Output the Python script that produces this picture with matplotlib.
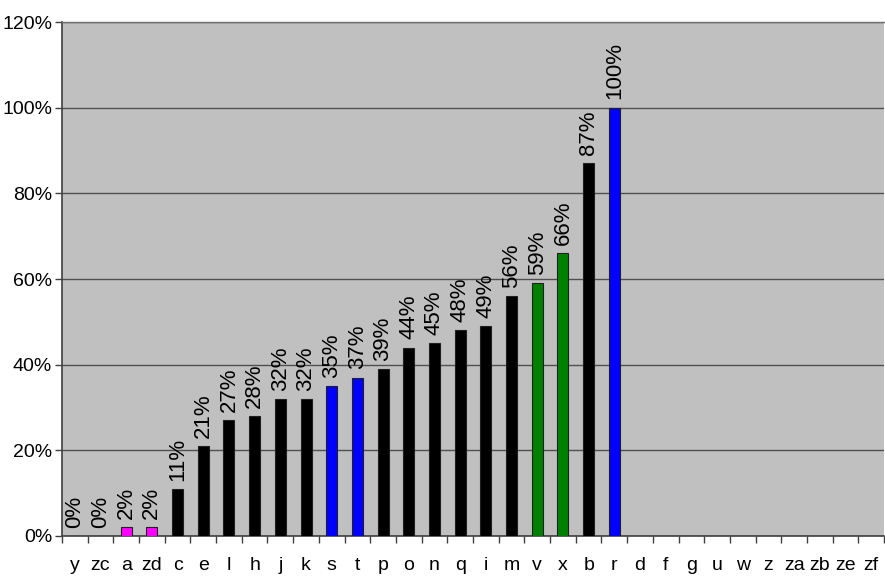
import matplotlib
matplotlib.use("Agg")
import matplotlib.pyplot as plt
import numpy as np
from matplotlib.ticker import PercentFormatter

categories = ["y", "zc", "a", "zd", "c", "e", "l", "h", "j", "k", "s", "t",
              "p", "o", "n", "q", "i", "m", "v", "x", "b", "r",
              "d", "f", "g", "u", "w", "z", "za", "zb", "ze", "zf"]
values = [0, 0, 2, 2, 11, 21, 27, 28, 32, 32, 35, 37,
          39, 44, 45, 48, 49, 56, 59, 66, 87, 100]
bar_colors = ["black", "black", "#FF00FF", "#FF00FF", "black", "black", "black",
              "black", "black", "black", "#0000FF", "#0000FF", "black", "black",
              "black", "black", "black", "black", "#008000", "#008000", "black",
              "#0000FF"]

plt.rcParams["font.family"] = ["Liberation Sans", "DejaVu Sans"]

fig = plt.figure(figsize=(8.85, 5.78), dpi=100)
ax = fig.add_axes([0.070, 0.0727, 0.929, 0.889])
ax.set_facecolor("#C0C0C0")

x = np.arange(len(values))
ax.bar(x, values, width=0.43, color=bar_colors,
       edgecolor="#202020", linewidth=0.8, zorder=3)

# rotated percentage labels above every drawn bar
for xi, v in zip(x, values):
    ax.annotate(f"{v}%", (xi, v), xytext=(0, 6), textcoords="offset points",
                rotation=90, ha="center", va="bottom", fontsize=16,
                color="black", zorder=4)

ax.set_xlim(-0.5, len(categories) - 0.5)
ax.set_ylim(0, 120)
ax.set_yticks(np.arange(0, 121, 20))
ax.yaxis.set_major_formatter(PercentFormatter(decimals=0))
ax.grid(axis="y", color="#505050", linewidth=1.0, zorder=1)

ax.set_xticks(np.arange(len(categories)))
ax.set_xticklabels(categories)
ax.set_xticks(np.arange(-0.5, len(categories), 1.0), minor=True)
ax.tick_params(axis="x", which="major", length=0, pad=15, labelsize=14)
ax.tick_params(axis="x", which="minor", length=5, width=1, color="#404040",
               direction="out")
ax.tick_params(axis="y", which="major", length=5, width=1, color="#404040",
               labelsize=14, pad=2)

for side in ["left", "bottom"]:
    ax.spines[side].set_color("#404040")
    ax.spines[side].set_linewidth(1.2)
ax.spines["top"].set_color("#707070")
ax.spines["top"].set_linewidth(1.0)
ax.spines["right"].set_visible(False)

fig.savefig("out.png", dpi=100)
